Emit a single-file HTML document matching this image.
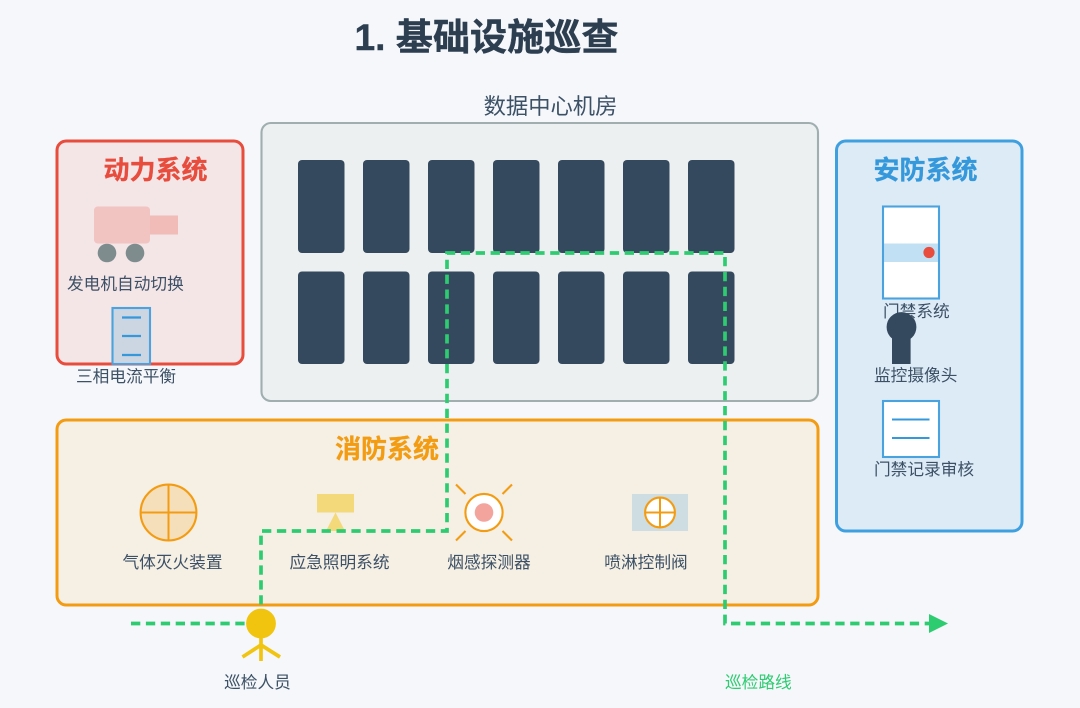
<!DOCTYPE html>
<html lang="zh">
<head>
<meta charset="utf-8">
<title>基础设施巡查</title>
<style>
html,body{margin:0;padding:0;background:#f5f7fb;}
svg{display:block;}
text{font-family:"Liberation Sans","Noto Sans CJK SC",sans-serif;}
.l{font-size:16.7px;fill:#3d5166;}
.h{font-size:26px;font-weight:700;}
</style>
</head>
<body>
<svg width="1080" height="708" viewBox="0 0 1080 708" xmlns="http://www.w3.org/2000/svg">
<rect width="1080" height="708" fill="#f5f7fb"/>
<text x="486.5" y="50" text-anchor="middle" font-size="37.14" font-weight="700" fill="#2c3e50" stroke="#2c3e50" stroke-width=".4">1. 基础设施巡查</text>

<text x="550.5" y="114" text-anchor="middle" font-size="22.3" fill="#3d5166">数据中心机房</text>
<rect x="261.500" y="123" width="556.500" height="278" rx="9.3" fill="#ecf0f1" stroke="#a0aeb0" stroke-width="2.1"/>
<g fill="#34495e">
<rect x="298" y="160" width="46.5" height="93" rx="4"/>
<rect x="363" y="160" width="46.5" height="93" rx="4"/>
<rect x="428" y="160" width="46.5" height="93" rx="4"/>
<rect x="493" y="160" width="46.5" height="93" rx="4"/>
<rect x="558" y="160" width="46.5" height="93" rx="4"/>
<rect x="623" y="160" width="46.5" height="93" rx="4"/>
<rect x="688" y="160" width="46.5" height="93" rx="4"/>
<rect x="298" y="271.5" width="46.5" height="92.5" rx="4"/>
<rect x="363" y="271.5" width="46.5" height="92.5" rx="4"/>
<rect x="428" y="271.5" width="46.5" height="92.5" rx="4"/>
<rect x="493" y="271.5" width="46.5" height="92.5" rx="4"/>
<rect x="558" y="271.5" width="46.5" height="92.5" rx="4"/>
<rect x="623" y="271.5" width="46.5" height="92.5" rx="4"/>
<rect x="688" y="271.5" width="46.5" height="92.5" rx="4"/>
</g>

<!-- Power -->
<rect x="57" y="141" width="186" height="223" rx="9.3" fill="#e74c3c" fill-opacity=".1" stroke="#e74c3c" stroke-width="3"/>
<text x="155.5" y="179" text-anchor="middle" class="h" fill="#e74c3c" stroke="#e74c3c" stroke-width=".3">动力系统</text>
<rect x="94" y="206.5" width="56" height="37" rx="3.7" fill="#e74c3c" fill-opacity=".22"/>
<rect x="150" y="215.5" width="28" height="19" fill="#e74c3c" fill-opacity=".27"/>
<circle cx="107" cy="253" r="9.3" fill="#7f8c8d"/>
<circle cx="135" cy="253" r="9.3" fill="#7f8c8d"/>
<text x="67" y="289.5" class="l">发电机自动切换</text>
<rect x="112.5" y="308" width="37.5" height="56" fill="#ccd5e2" stroke="#4aa3df" stroke-width="2.1"/>
<path d="M122 317.5H141M122 336H141M122 355H141" stroke="#3498db" stroke-width="2.2" fill="none"/>
<text x="76" y="382" class="l">三相电流平衡</text>

<!-- Security -->
<rect x="836.5" y="141" width="185.5" height="390" rx="9.3" fill="#3498db" fill-opacity=".12" stroke="#3fa0e0" stroke-width="3"/>
<text x="925.5" y="179" text-anchor="middle" class="h" fill="#3498db" stroke="#3498db" stroke-width=".3">安防系统</text>
<text x="883" y="317" class="l">门禁系统</text>
<rect x="883" y="206.5" width="56" height="92" fill="#fff" stroke="#4aa3df" stroke-width="2.1"/>
<rect x="884" y="243.5" width="54" height="18.5" fill="#3498db" fill-opacity=".3"/>
<circle cx="929" cy="252.5" r="5.6" fill="#e74c3c"/>
<circle cx="901.5" cy="327" r="14.9" fill="#34495e"/>
<rect x="892" y="334" width="18.6" height="30" fill="#34495e"/>
<text x="874" y="381" class="l">监控摄像头</text>
<rect x="883" y="401" width="56" height="56" fill="#fff" stroke="#4aa3df" stroke-width="2.1"/>
<path d="M892 419.5H929.500M892 438H929.500" stroke="#3498db" stroke-width="2" fill="none"/>
<text x="874" y="475" class="l">门禁记录审核</text>

<!-- Fire -->
<rect x="57" y="420" width="761" height="185" rx="9.3" fill="#f5efe4" stroke="#f39c12" stroke-width="3"/>
<text x="387" y="458" text-anchor="middle" class="h" fill="#f39c12" stroke="#f39c12" stroke-width=".3">消防系统</text>
<circle cx="168.5" cy="512.5" r="27.9" fill="#f39c12" fill-opacity=".2" stroke="#f39c12" stroke-width="2.1"/>
<path d="M140.500 512.500H196.500M168.500 484.500V540.500" stroke="#f39c12" stroke-width="2" fill="none"/>
<text x="172.500" y="568" text-anchor="middle" class="l">气体灭火装置</text>
<rect x="317" y="494" width="37" height="18.5" fill="#f1c40f" fill-opacity=".5"/>
<polygon points="335.5,512.5 326,531 345,531" fill="#f1c40f" fill-opacity=".5"/>
<text x="339.5" y="568" text-anchor="middle" class="l">应急照明系统</text>
<circle cx="484" cy="512.5" r="18.6" fill="#fff" stroke="#f39c12" stroke-width="2.1"/>
<circle cx="484" cy="512.5" r="9.3" fill="#e74c3c" fill-opacity=".5"/>
<path d="M456 484.500L465.500 494M512 484.500L502.500 494M456 540.500L465.500 531M512 540.500L502.500 531" stroke="#f39c12" stroke-width="2.1" fill="none"/>
<text x="489" y="568" text-anchor="middle" class="l">烟感探测器</text>
<rect x="632" y="494" width="56" height="37" fill="#3498db" fill-opacity=".2"/>
<circle cx="660" cy="512.5" r="14.9" fill="#fff" stroke="#f39c12" stroke-width="2.1"/>
<path d="M645 512.500H675M660 497.500V527.500" stroke="#f39c12" stroke-width="2" fill="none"/>
<text x="646" y="568" text-anchor="middle" class="l">喷淋控制阀</text>

<!-- Route -->
<path d="M131 623.500H261V531H447V253H725V623.500H930" fill="none" stroke="#2ecc71" stroke-width="3.7" stroke-dasharray="9.3 5.6"/>
<polygon points="929,614 948,623.500 929,633" fill="#2ecc71"/>

<!-- Person -->
<circle cx="261" cy="623.500" r="14.9" fill="#f1c40f"/>
<path d="M261 638V661M242.500 657L261 645L280 657" fill="none" stroke="#f1c40f" stroke-width="3.7"/>
<text x="257.500" y="688" text-anchor="middle" class="l">巡检人员</text>
<text x="725" y="688" class="l" style="fill:#2ecc71">巡检路线</text>
</svg>
</body>
</html>
